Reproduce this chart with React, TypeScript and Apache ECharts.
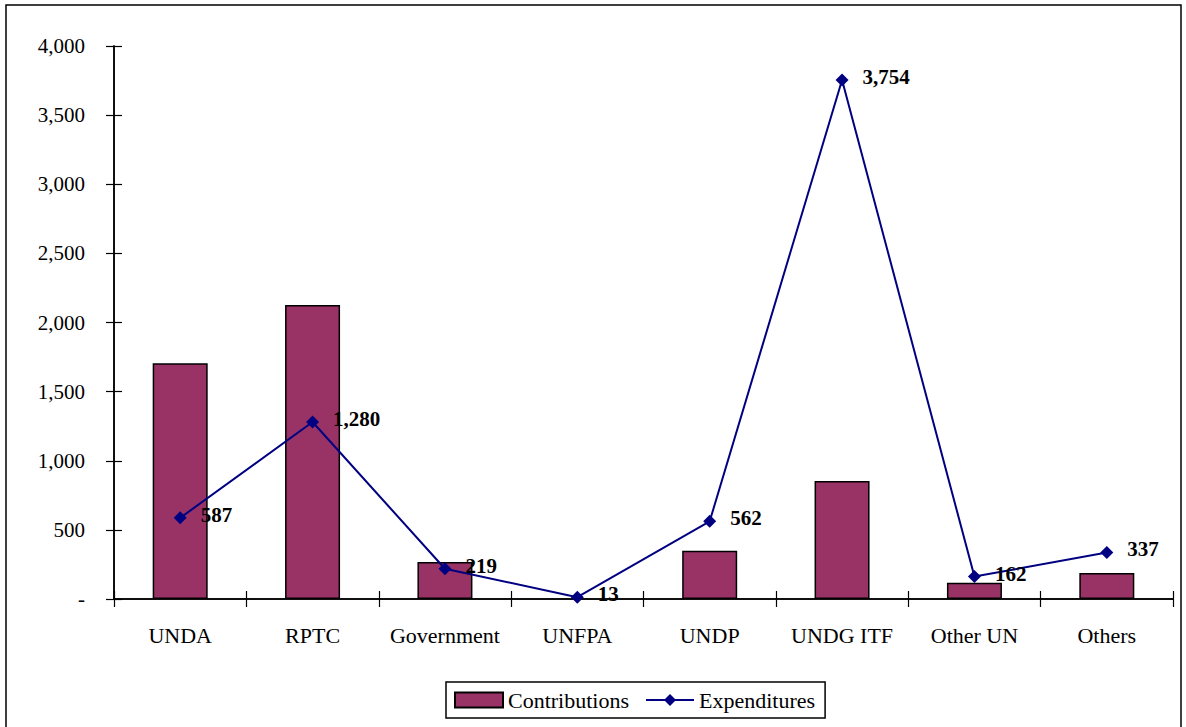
import React, { useEffect, useRef } from "react";
import * as echarts from "echarts";

const categories = ["UNDA", "RPTC", "Government", "UNFPA", "UNDP", "UNDG ITF", "Other UN", "Others"];
const contributions = [1705, 2127, 268, null, 349, 853, 118, 188];
const expenditures = [587, 1280, 219, 13, 562, 3754, 162, 337];

const FONT = "'Liberation Serif', 'Times New Roman', serif";

export default function App() {
  const ref = useRef<HTMLDivElement>(null);
  useEffect(() => {
    const chart = echarts.init(ref.current!, null, { renderer: "svg" });
    const yCommon = {
      type: "value" as const,
      min: 0,
      max: 4000,
      interval: 500,
      splitLine: { show: false },
    };
    const gridPos = { left: 114, right: 13, top: 46, bottom: 128, containLabel: false };
    const tickStyle = { color: "#000", width: 1.2 };
    chart.setOption({
      animation: false,
      backgroundColor: "#ffffff",
      textStyle: { fontFamily: FONT },
      grid: [gridPos, gridPos],
      graphic: [
        {
          type: "rect",
          shape: { x: 6, y: 5, width: 1175, height: 800 },
          style: { fill: "none", stroke: "#000", lineWidth: 1.5 },
          silent: true,
          z: -1,
        },
      ],
      legend: {
        left: 446,
        top: 682,
        padding: [7, 10, 7, 8],
        borderColor: "#000",
        borderWidth: 1.5,
        itemWidth: 48,
        itemHeight: 15,
        itemGap: 16,
        textStyle: { fontFamily: FONT, fontSize: 22, color: "#000" },
        data: [
          { name: "Contributions", icon: "rect" },
          { name: "Expenditures" },
        ],
      },
      xAxis: [
        {
          type: "category",
          data: categories,
          gridIndex: 0,
          axisLine: { lineStyle: { color: "#000", width: 1.5 } },
          axisTick: { show: true, length: 8, lineStyle: tickStyle },
          axisLabel: { fontFamily: FONT, fontSize: 22, color: "#000", margin: 25, interval: 0 },
        },
        {
          type: "category",
          data: categories,
          gridIndex: 1,
          position: "bottom",
          axisLine: { show: true, lineStyle: { color: "#000", width: 1.5 } },
          axisTick: { show: true, inside: true, length: 8, lineStyle: tickStyle },
          axisLabel: { show: false },
        },
      ],
      yAxis: [
        {
          ...yCommon,
          gridIndex: 0,
          axisLine: { show: true, lineStyle: { color: "#000", width: 1.5 } },
          axisTick: { show: true, length: 8, lineStyle: tickStyle },
          axisLabel: {
            fontFamily: FONT,
            fontSize: 21,
            color: "#000",
            margin: 29,
            formatter: (v: number) => (v === 0 ? "-" : v.toLocaleString("en-US")),
          },
        },
        {
          ...yCommon,
          gridIndex: 1,
          position: "left",
          axisLine: { show: true, lineStyle: { color: "#000", width: 1.5 } },
          axisTick: { show: true, inside: true, length: 8, lineStyle: tickStyle },
          axisLabel: { show: false },
        },
      ],
      series: [
        {
          name: "Contributions",
          type: "bar",
          data: contributions,
          barWidth: 55,
          itemStyle: { color: "#993366", borderColor: "#000", borderWidth: 1.5 },
        },
        {
          name: "Expenditures",
          type: "line",
          data: expenditures,
          symbol: "diamond",
          symbolSize: 13,
          lineStyle: { color: "#000080", width: 2 },
          itemStyle: { color: "#000080" },
          label: {
            show: true,
            position: "right",
            distance: 14,
            offset: [0, -3],
            fontFamily: FONT,
            fontSize: 21,
            fontWeight: "bold",
            color: "#000",
            formatter: (p: any) => Number(p.value).toLocaleString("en-US"),
          },
          z: 5,
        },
        {
          name: "tickHelper",
          type: "line",
          xAxisIndex: 1,
          yAxisIndex: 1,
          data: expenditures,
          symbol: "none",
          silent: true,
          lineStyle: { opacity: 0, width: 0 },
          tooltip: { show: false },
        },
      ],
    });
    return () => chart.dispose();
  }, []);
  return (
    <div
      ref={ref}
      style={{ position: "absolute", left: 0, top: 0, width: 1186, height: 727 }}
    />
  );
}
